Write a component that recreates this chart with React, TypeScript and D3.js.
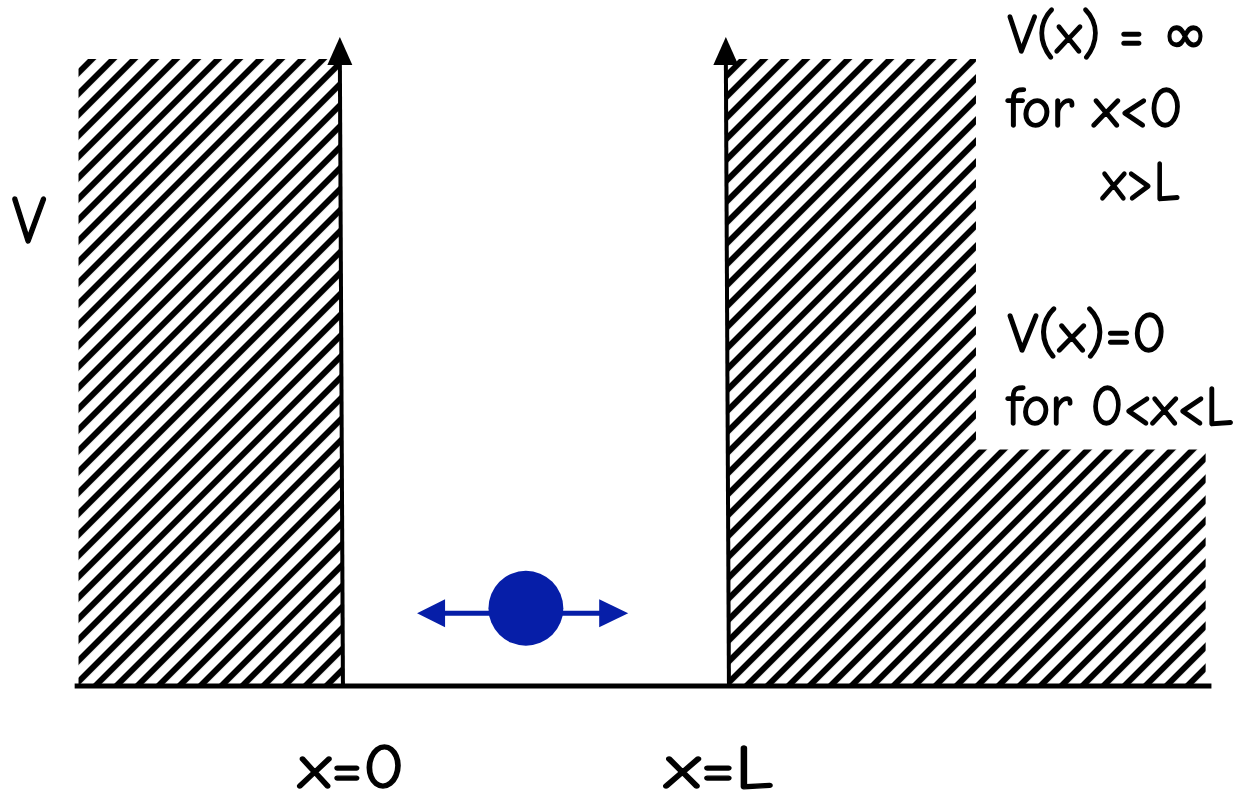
import React from "react";
import * as d3 from "d3";

// Diagram values in well units: x in units of L, V in units of wall height
const walls = [
  { name: "x=0", base: 0.005, top: -0.003 },
  { name: "x=L", base: 1.005, top: -0.003 + 1 },
];
const leftBarrier = [
  [-0.68, 0], [-0.68, 1], [-0.003, 1], [0.005, 0],
];
const rightBarrier = [
  [1.005, 0], [0.997, 1], [1.645, 1], [1.645, 0.377], [2.24, 0.377], [2.24, 0],
];
const axisExtent = [-0.69, 2.255];
const arrowTop = 1.035;
const particle = { x: 0.479, v: 0.12, r: 0.097 };
const motionArrow = [0.197, 0.744];
const bottomLabels = [
  { text: "x=0", x: -0.11, len: 106 },
  { text: "x=L", x: 0.839, len: 108 },
];
const rightLabels = [
  { text: "V(x) = ∞", x: 1.727, v: 1.009, len: 200 },
  { text: "for x<0", x: 1.725, v: 0.891, len: 176 },
  { text: "x>L", x: 1.97, v: 0.775, len: 78 },
  { text: "V(x)=0", x: 1.727, v: 0.533, len: 159 },
  { text: "for 0<x<L", x: 1.725, v: 0.417, len: 226 },
];

const W = 1246;
const H = 797;
const x = d3.scaleLinear().domain([0, 1]).range([341, 727]);
const y = d3.scaleLinear().domain([0, 1]).range([686, 59]);
const FONT = "'Comic Sans MS', 'Comic Neue', 'Noto Sans', 'DejaVu Sans', sans-serif";
const BLUE = "#061ea8";

export default function App() {
  const line = d3.line<number[]>().x((d) => x(d[0])).y((d) => y(d[1]));
  const poly = (pts: number[][]) => line(pts)! + "Z";
  const py = y(particle.v);
  const pr = x(particle.r) - x(0);
  const ax0 = x(motionArrow[0]);
  const ax1 = x(motionArrow[1]);
  const ay = py + 2.5;
  const textStyle = { stroke: "#000", strokeWidth: 1.4, fill: "#000" };
  return (
    <svg
      width={W}
      height={H}
      style={{ position: "absolute", left: 0, top: 0, display: "block", background: "#fff" }}
    >
      <defs>
        <pattern
          id="hatch"
          patternUnits="userSpaceOnUse"
          width={14.85}
          height={20}
          patternTransform="rotate(45)"
        >
          <line x1={3} y1={0} x2={3} y2={20} stroke="#000" strokeWidth={6} />
        </pattern>
      </defs>
      <path d={poly(leftBarrier)} fill="url(#hatch)" />
      <path d={poly(rightBarrier)} fill="url(#hatch)" />
      {/* baseline */}
      <line
        x1={x(axisExtent[0])}
        x2={x(axisExtent[1])}
        y1={y(0)}
        y2={y(0)}
        stroke="#000"
        strokeWidth={5}
      />
      {/* walls with arrows */}
      {walls.map((w) => {
        const tx = x(w.top);
        const ty = y(arrowTop);
        return (
          <g key={w.name}>
            <line x1={x(w.base)} y1={y(0)} x2={tx} y2={ty + 20} stroke="#000" strokeWidth={4} />
            <path d={`M${tx},${ty} L${tx - 12.5},${ty + 28} L${tx + 12.5},${ty + 28} Z`} fill="#000" />
          </g>
        );
      })}
      {/* particle */}
      <line x1={ax0 + 20} x2={ax1 - 20} y1={ay} y2={ay} stroke={BLUE} strokeWidth={5} />
      <path d={`M${ax0},${ay} L${ax0 + 28},${ay - 14} L${ax0 + 28},${ay + 14} Z`} fill={BLUE} />
      <path d={`M${ax1},${ay} L${ax1 - 29},${ay - 14} L${ax1 - 29},${ay + 14} Z`} fill={BLUE} />
      <circle cx={x(particle.x)} cy={py - 2.5} r={pr} fill={BLUE} />
      {/* labels */}
      <text x={12} y={243} fontFamily={FONT} fontSize={68} textLength={34} lengthAdjust="spacingAndGlyphs" {...textStyle}>
        V
      </text>
      {bottomLabels.map((l) => (
        <text
          key={l.text}
          x={x(l.x)}
          y={788}
          fontFamily={FONT}
          fontSize={62}
          textLength={l.len}
          lengthAdjust="spacingAndGlyphs"
          {...textStyle}
        >
          {l.text}
        </text>
      ))}
      {rightLabels.map((l) => (
        <text
          key={l.text}
          x={x(l.x)}
          y={y(l.v)}
          fontFamily={FONT}
          fontSize={56}
          textLength={l.len}
          lengthAdjust="spacingAndGlyphs"
          {...textStyle}
        >
          {l.text}
        </text>
      ))}
    </svg>
  );
}
